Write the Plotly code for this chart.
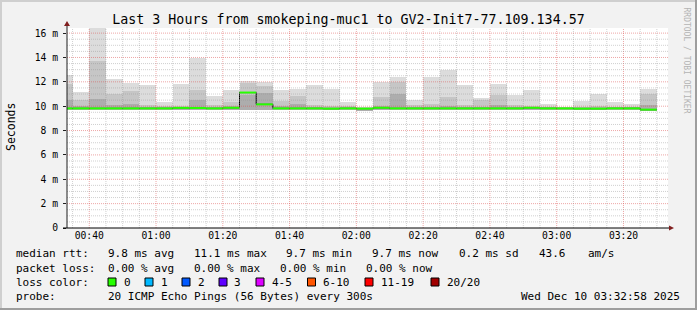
import plotly.graph_objects as go
from datetime import datetime, timedelta

# ------------------------------------------------------------------ data
title_text = "Last 3 Hours from smokeping-muc1 to GV2-Init7-77.109.134.57"
first_bin = "2025-12-10 00:30:00"
bin_minutes = 5
view_start = "2025-12-10 00:33:20"
view_end = "2025-12-10 03:33:20"

# rtt values in ms for each 5-minute bin (00:30 ... 03:25)
rtt_max = [12.55, 11.15, 16.6, 12.2, 11.9, 11.7, 10.35, 11.85, 13.95, 10.8,
           11.3, 12.1, 12.0, 11.3, 11.4, 11.7, 11.45, 10.35, 9.95, 12.0,
           12.4, 10.5, 12.4, 13.0, 11.7, 10.7, 11.8, 10.9, 11.3, 10.15,
           9.95, 10.45, 11.0, 10.35, 10.15, 11.45]
rtt_mid = [11.8, 10.5, 13.7, 11.0, 11.25, 10.1, 10.0, 10.05, 11.3, 10.1,
           10.35, 11.9, 11.65, 10.4, 10.8, 10.1, 10.0, 10.0, 9.9, 10.75,
           12.0, 10.1, 10.2, 10.75, 10.1, 10.5, 10.9, 10.1, 10.0, 9.95,
           9.9, 9.95, 10.0, 9.95, 9.95, 11.0]
rtt_dark = [10.5, 10.0, 10.6, 10.1, 10.2, 9.9, 9.9, 9.95, 10.5, 9.95,
            10.0, 10.9, 11.1, 10.0, 10.2, 9.95, 9.9, 9.9, 9.85, 10.0,
            11.0, 9.95, 9.95, 10.0, 9.95, 9.95, 10.1, 9.95, 9.95, 9.9,
            9.85, 9.9, 9.9, 9.9, 9.9, 10.1]
rtt_median = [9.82, 9.82, 9.82, 9.82, 9.82, 9.82, 9.82, 9.86, 9.85, 9.82,
              9.87, 11.12, 10.15, 9.82, 9.82, 9.82, 9.8, 9.82, 9.8, 9.87,
              9.82, 9.82, 9.82, 9.82, 9.82, 9.82, 9.82, 9.82, 9.87, 9.82,
              9.82, 9.8, 9.8, 9.82, 9.82, 9.72]
rtt_min = [9.72, 9.72, 9.72, 9.72, 9.72, 9.72, 9.72, 9.72, 9.72, 9.72,
           9.72, 9.67, 9.68, 9.72, 9.72, 9.72, 9.7, 9.72, 9.62, 9.72,
           9.72, 9.72, 9.72, 9.72, 9.72, 9.72, 9.72, 9.72, 9.72, 9.72,
           9.72, 9.66, 9.66, 9.72, 9.72, 9.64]

x_tick_labels = ["00:40", "01:00", "01:20", "01:40", "02:00",
                 "02:20", "02:40", "03:00", "03:20"]
y_tick_values = [0, 2, 4, 6, 8, 10, 12, 14, 16]
y_tick_labels = ["0", "2 m", "4 m", "6 m", "8 m", "10 m", "12 m", "14 m", "16 m"]
y_max = 16.42

median_stats = ["9.8 ms avg", "11.1 ms max", "9.7 ms min", "9.7 ms now",
                "0.2 ms sd", "43.6", "am/s"]
loss_stats = ["0.00 % avg", "0.00 % max", "0.00 % min", "0.00 % now"]
loss_labels = ["0", "1", "2", "3", "4-5", "6-10", "11-19", "20/20"]
loss_colors = ["#26ff00", "#00b8ff", "#0059ff", "#5e00ff", "#dd00ff",
               "#ff5500", "#ff0000", "#a10000"]
probe_text = "20 ICMP Echo Pings (56 Bytes) every 300s"
stamp_text = "Wed Dec 10 03:32:58 2025"
watermark = "RRDTOOL / TOBI OETIKER"

# ------------------------------------------------------------------ geometry
W, H = 697, 310
L, R, T, B = 67, 29, 28, 82
PW, PH = W - L - R, H - T - B
MONO = "DejaVu Sans Mono"
MINOR = "rgba(143,143,143,0.42)"
MAJOR = "rgba(222,79,79,0.5)"


def px(x):
    return (x - L) / PW


def py(y):
    return (H - B - y) / PH


t0 = datetime.fromisoformat(first_bin)
n = len(rtt_max)
step = timedelta(minutes=bin_minutes)
starts = [t0 + step * i for i in range(n)]
centers = [s + step / 2 for s in starts]
width_ms = bin_minutes * 60 * 1000

fig = go.Figure()

for tops, col in [(rtt_max, "#dcdcdc"), (rtt_mid, "#c6c6c6"), (rtt_dark, "#adadad")]:
    fig.add_bar(x=centers, y=[t - b for t, b in zip(tops, rtt_min)], base=rtt_min,
                width=width_ms, marker=dict(color=col, line=dict(width=0)),
                hoverinfo="skip")

# black median step line
fig.add_scatter(x=starts + [starts[-1] + step], y=rtt_median + [rtt_median[-1]],
                mode="lines", line=dict(color="#000000", width=1, shape="hv"),
                hoverinfo="skip")
# loss-coloured median segments
gx, gy = [], []
for s, m in zip(starts, rtt_median):
    gx += [s, s + step, None]
    gy += [m, m, None]
fig.add_scatter(x=gx, y=gy, mode="lines", line=dict(color=loss_colors[0], width=2),
                hoverinfo="skip")

shapes = []
# grid
vs = datetime.fromisoformat(view_start)
ve = datetime.fromisoformat(view_end)
g = datetime(vs.year, vs.month, vs.day, vs.hour, (vs.minute // 5 + 1) * 5 % 60)
while g < ve:
    major = g.minute % 20 == 0
    shapes.append(dict(type="line", xref="x", yref="paper", x0=g, x1=g, y0=0, y1=1,
                       layer="above",
                       line=dict(color=MAJOR if major else MINOR, width=1, dash="1px,1px")))
    g += timedelta(minutes=5)
v = 0.5
while v < y_max:
    major = abs(v % 2) < 1e-9
    shapes.append(dict(type="line", xref="paper", yref="y", x0=0, x1=1, y0=v, y1=v,
                       layer="above",
                       line=dict(color=MAJOR if major else MINOR, width=1, dash="1px,1px")))
    v += 0.5

# axes lines and arrows
shapes.append(dict(type="line", xref="paper", yref="paper", x0=0, x1=0, y0=0, y1=py(24),
                   layer="above", line=dict(color="#1f1f1f", width=1)))
shapes.append(dict(type="line", xref="paper", yref="paper", x0=px(63), x1=px(669), y0=0, y1=0,
                   layer="above", line=dict(color="#000000", width=1)))
shapes.append(dict(type="path", xref="paper", yref="paper",
                   path=f"M {px(64)} {py(26)} L {px(67)} {py(21)} L {px(70)} {py(26)} Z",
                   fillcolor="#801f1f", line=dict(width=0), layer="above"))
shapes.append(dict(type="path", xref="paper", yref="paper",
                   path=f"M {px(669)} {py(225.5)} L {px(674)} {py(228)} L {px(669)} {py(230.5)} Z",
                   fillcolor="#801f1f", line=dict(width=0), layer="above"))

# frame
shapes.append(dict(type="rect", xref="paper", yref="paper", x0=px(0), x1=px(W), y0=py(0), y1=py(2),
                   fillcolor="#cfcfcf", line=dict(width=0)))
shapes.append(dict(type="rect", xref="paper", yref="paper", x0=px(0), x1=px(2), y0=py(0), y1=py(H),
                   fillcolor="#cfcfcf", line=dict(width=0)))
shapes.append(dict(type="rect", xref="paper", yref="paper", x0=px(W - 2), x1=px(W), y0=py(0), y1=py(H),
                   fillcolor="#9e9e9e", line=dict(width=0)))
shapes.append(dict(type="rect", xref="paper", yref="paper", x0=px(0), x1=px(W), y0=py(H - 2), y1=py(H),
                   fillcolor="#9e9e9e", line=dict(width=0)))

annotations = []


def text(t, x, y, anchor="left", size=11, color="#000000", angle=0):
    annotations.append(dict(text=t, xref="paper", yref="paper", x=px(x), y=py(y),
                            xanchor=anchor, yanchor="middle", showarrow=False,
                            textangle=angle, borderpad=0,
                            font=dict(family=MONO, size=size, color=color)))


col_x = [107, 193, 285, 371, 458, 538, 587]
text("median rtt:", 15, 254)
for t, x in zip(median_stats, col_x):
    text(t, x, 254)
text("packet loss:", 15, 268)
for t, x in zip(loss_stats, [107, 193, 279, 365]):
    text(t, x, 268)
text("loss color:", 15, 282)
sq_x = [108, 145, 182, 219, 256, 307.5, 365, 431]
for lab, colr, x in zip(loss_labels, loss_colors, sq_x):
    shapes.append(dict(type="rect", xref="paper", yref="paper", x0=px(x), x1=px(x + 8),
                       y0=py(278), y1=py(286), fillcolor=colr,
                       line=dict(color="#000000", width=1)))
    text(lab, x + 14.5, 282)
text("probe:", 15, 296)
text(probe_text, 107, 296)
text(stamp_text, 681, 296, anchor="right")
text("Seconds", 11, 127, anchor="center", size=11.5, angle=-90)
text(watermark, 686.5, 60, anchor="center", size=8, color="#b4b4b4", angle=90)

fig.update_layout(
    width=W, height=H, autosize=False,
    margin=dict(l=L, r=R, t=T, b=B, pad=0),
    paper_bgcolor="#f2f2f2", plot_bgcolor="#ffffff",
    barmode="overlay", bargap=0, showlegend=False,
    font=dict(family=MONO, color="#000000"),
    title=dict(text=title_text, x=0.5, xref="container", xanchor="center",
               y=1 - 19 / H, yref="container", yanchor="middle",
               font=dict(family=MONO, size=13.3, color="#000000")),
    shapes=shapes, annotations=annotations,
    xaxis=dict(type="date", range=[view_start, view_end], showgrid=False, zeroline=False,
               showline=False, ticks="",
               tickvals=[f"{first_bin[:10]} {lab}:00" for lab in x_tick_labels],
               ticktext=x_tick_labels, tickfont=dict(family=MONO, size=9.7)),
    yaxis=dict(range=[0, y_max], showgrid=False, zeroline=False, showline=False,
               ticks="outside", ticklen=3, tickcolor="#1f1f1f",
               ticklabelstandoff=3,
               tickvals=y_tick_values, ticktext=y_tick_labels,
               tickfont=dict(family=MONO, size=9.7)),
)

fig.write_html("out.html")
